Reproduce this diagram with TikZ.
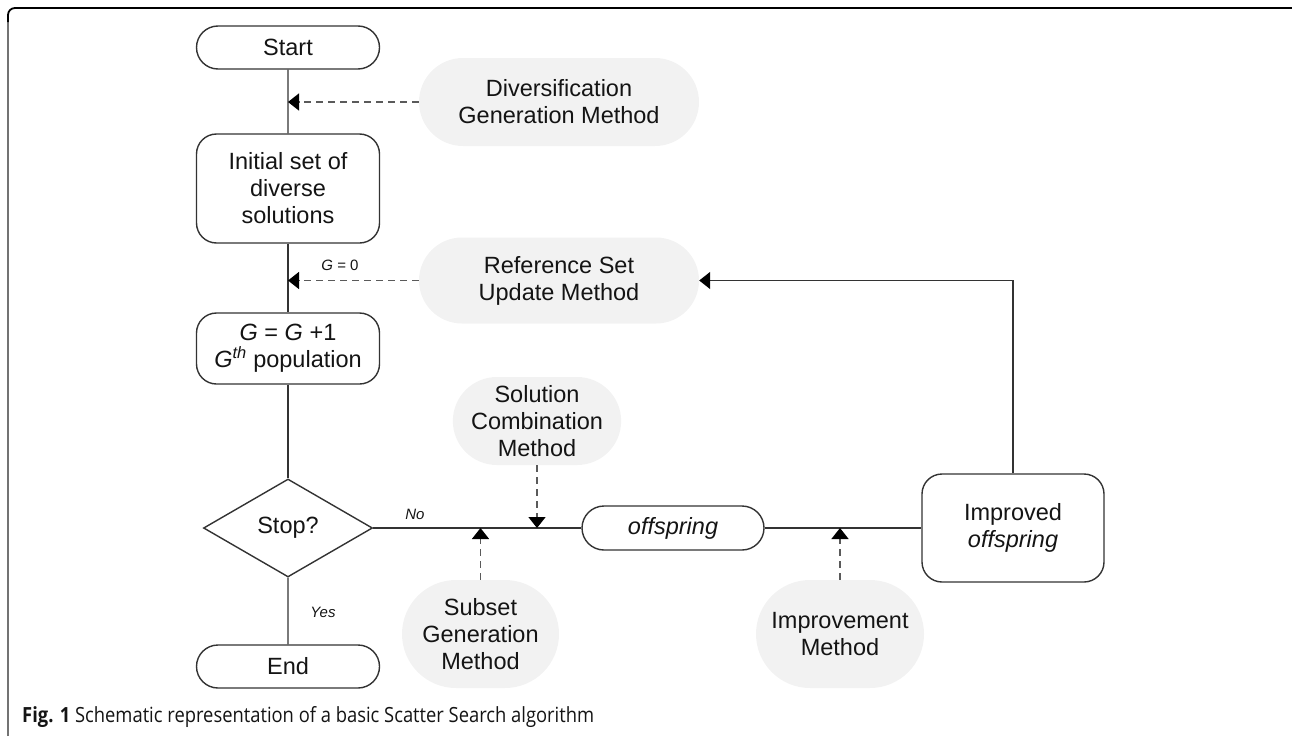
\documentclass[tikz,border=0pt]{standalone}
\usepackage{fontspec}
\setmainfont{Liberation Sans}
\newfontfamily\capfont{Open Sans}
\usetikzlibrary{shapes.misc,shapes.geometric,arrows.meta}
\definecolor{linec}{HTML}{333333}
\definecolor{dashc}{HTML}{5A5A5A}
\definecolor{fillg}{HTML}{F2F2F2}
\definecolor{txt}{HTML}{141414}
\newcommand{\mainsz}{\fontsize{23.5}{27}\selectfont}
\newcommand{\smallsz}{\fontsize{15}{18}\selectfont}
\tikzset{
  base/.style={draw=linec, line width=1.4pt, text=txt, align=center, font=\mainsz, inner sep=0pt},
  term/.style={base, rounded rectangle, minimum width=183pt, minimum height=43pt},
  proc/.style={base, rectangle, rounded corners=20pt, minimum width=183pt},
  decision/.style={base, diamond, minimum width=169pt, minimum height=98pt},
  method/.style={fill=fillg, text=txt, align=center, font=\mainsz, rounded rectangle, inner sep=0pt},
  flow/.style={draw=linec, line width=1.4pt},
  tipa/.style={-{Triangle[length=11pt,width=17pt,color=black]}},
  dasharrow/.style={draw=dashc, line width=1.5pt, dash pattern=on 7pt off 5pt, tipa},
  solidarrow/.style={flow, tipa},
  lbl/.style={font=\smallsz, text=txt, inner sep=0pt}
}
\begin{document}
\begin{tikzpicture}[x=1pt,y=-1pt]
\useasboundingbox (0,0) rectangle (1292,736);
% frame
\draw[color=black!55, line width=1.8pt] (8,736) -- (8,20);
\draw[color=black, line width=1.8pt, rounded corners=7pt] (8,22) -- (8,8) -- (1292,8);
% main column
\node[term] (start) at (288,47.5) {Start};
\node[proc, minimum height=109pt] (init) at (288,188.5) {Initial set of\\diverse\\solutions};
\node[proc, minimum height=71pt] (gen) at (288,348.5) {\textit{G} = \textit{G} +1\\\textit{G}\textsuperscript{\textit{th}} population};
\node[decision] (stop) at (288,528) {Stop?};
\node[term] (end) at (288,666.5) {End};
% methods
\node[method, minimum width=280pt, minimum height=88pt] (div) at (559,102) {Diversification\\Generation Method};
\node[method, minimum width=280pt, minimum height=86pt] (ref) at (559,280.5) {Reference Set\\Update Method};
\node[method, minimum width=168pt, minimum height=88pt] (sol) at (537,421) {Solution\\Combination\\Method};
\node[method, minimum width=157pt, minimum height=108pt] (sub) at (480.5,634) {Subset\\Generation\\Method};
\node[method, minimum width=168pt, minimum height=108pt] (impm) at (840,634) {Improvement\\Method};
% offspring
\node[term, minimum width=182pt, minimum height=44pt] (off) at (673,528) {\textit{offspring}};
\node[proc, minimum width=182pt, minimum height=108pt] (impo) at (1013,528) {Improved\\\textit{offspring}};
% connectors
\draw[flow] (start) -- (init);
\draw[flow] (init) -- (gen);
\draw[flow] (gen) -- (stop);
\draw[flow] (stop) -- (end);
\draw[flow] (stop.east) -- (off.west);
\draw[flow] (off.east) -- (impo.west);
\draw[solidarrow] (impo.north) |- (ref.east);
\draw[dasharrow] (div.west) -- (start.south |- div.west);
\draw[dasharrow] (ref.west) -- (start.south |- ref.west);
\draw[dasharrow] (sub.north) -- (sub.north |- stop.east);
\draw[dasharrow] (sol.south) -- (sol.south |- stop.east);
\draw[dasharrow] (impm.north) -- (impm.north |- off.east);
% labels
\node[lbl] (g0) at (340,265) {\textit{G} = 0};
\node[lbl] (no) at (415,514) {\textit{No}};
\node[lbl] (yes) at (323,612) {\textit{Yes}};
% caption
\node[anchor=base west, inner sep=0pt, text=txt] (cap) at (22,722) {\resizebox{572pt}{16pt}{\capfont\textbf{Fig. 1} Schematic representation of a basic Scatter Search algorithm}};
\end{tikzpicture}
\end{document}
